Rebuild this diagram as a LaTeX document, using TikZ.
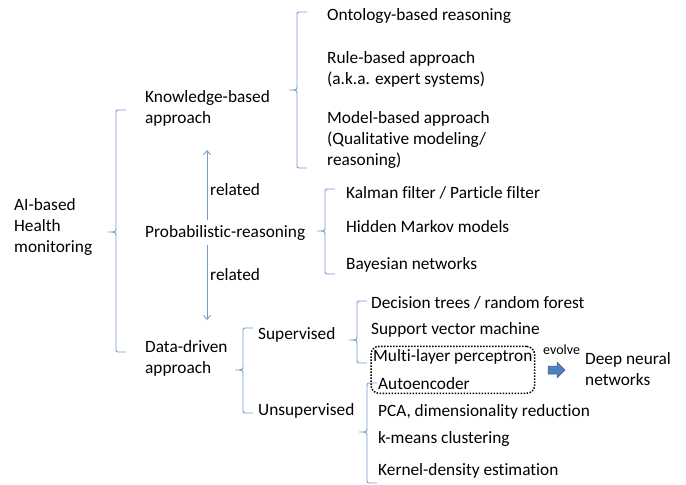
\documentclass[tikz,border=0pt]{standalone}
\usepackage{fontspec}
\setmainfont[Ligatures=NoCommon]{Carlito}
\usetikzlibrary{arrows.meta, fit}
\definecolor{LineBlue}{RGB}{118,154,208}
\definecolor{ArrowFill}{RGB}{79,129,189}
\definecolor{ArrowEdge}{RGB}{56,93,138}

% left bracket with a middle tick: x, top, middle, bottom
\newcommand{\brck}[4]{\draw [brck] ({#1+10},#2) -- ({#1+4},#2) .. controls (#1,#2) .. (#1,{#2+4}) -- (#1,{#3-4}) .. controls (#1,#3) .. ({#1-8},#3) .. controls (#1,#3) .. (#1,{#3+4}) -- (#1,{#4-4}) .. controls (#1,#4) .. ({#1+4},#4) -- ({#1+10},#4);}

\begin{document}
\begin{tikzpicture}[x=1pt, y=-1pt,
		every node/.style={anchor=west, inner sep=0pt, align=left, font=\fontsize{17.3}{20.8}\selectfont},
		brck/.style={LineBlue, line width=0.9pt},
		rel/.style={LineBlue, line width=0.9pt, -{Straight Barb[length=4pt, width=7pt]}}]
		\useasboundingbox (0,0) rectangle (686,485);
		% The root
		\node (root) at (14, 227) {AI-based\\Health\\monitoring};
		\brck{116}{110}{232}{352}
		% The three approaches
		\node (know) at (145, 108) {Knowledge-based\\approach};
		\node (prob) at (145, 233) {Probabilistic-reasoning};
		\node (data) at (145, 358) {Data-driven\\approach};
		% Arrows between the approaches
		\coordinate (relx) at (207, 0);
		\draw [rel, shorten <=5pt, shorten >=24pt] (prob.north -| relx) -- (know.south -| relx);
		\draw [rel, shorten <=4pt, shorten >=20pt] (prob.south -| relx) -- (data.north -| relx);
		\node (relup) at (210, 190) {related};
		\node (reldown) at (210, 275) {related};
		% Knowledge-based approach [leaves]
		\brck{297}{12}{90}{168}
		\node (onto) at (327, 16) {Ontology-based reasoning};
		\node (rule) at (327, 69) {Rule-based approach\\(a.k.a. expert systems)};
		\node (model) at (327, 140) {Model-based approach\\(Qualitative modeling/\\reasoning)};
		% Probabilistic-reasoning [leaves]
		\brck{325}{189}{231}{274}
		\node (kalman) at (346, 193) {Kalman filter / Particle filter};
		\node (hmm) at (346, 227) {Hidden Markov models};
		\node (bayes) at (346, 265) {Bayesian networks};
		% Data-driven approach
		\brck{243}{328}{370}{413}
		\node (sup) at (258, 335) {Supervised};
		\node (unsup) at (258, 411) {Unsupervised};
		% Supervised [leaves]
		\brck{357}{301}{340}{363}
		\node (tree) at (371, 303) {Decision trees / random forest};
		\node (svm) at (371, 330) {Support vector machine};
		\node (mlp) at (373, 357) {Multi-layer perceptron};
		% Unsupervised [leaves]
		\brck{367}{383}{432}{483}
		\node (auto) at (378, 384) {Autoencoder};
		\node (pca) at (378, 412) {PCA, dimensionality reduction};
		\node (kmeans) at (378, 439) {k-means clustering};
		\node (kde) at (378, 471) {Kernel-density estimation};
		% The neural models and where they lead
		\node [draw, line width=1.5pt, dash pattern=on 1.5pt off 1.5pt, rounded corners=8pt, inner xsep=2pt, inner ysep=3pt, fit=(mlp)(auto)] (nn) {};
		\draw [fill=ArrowFill, draw=ArrowEdge, line width=0.5pt] (548, 366) -- (557, 366) -- (557, 362) -- (565, 370) -- (557, 378) -- (557, 374) -- (548, 374) -- cycle;
		\node [font=\fontsize{14}{16}\selectfont] (evolve) at (543, 350) {evolve};
		\node (deep) at (585, 369) {Deep neural\\networks};
	\end{tikzpicture}
\end{document}
